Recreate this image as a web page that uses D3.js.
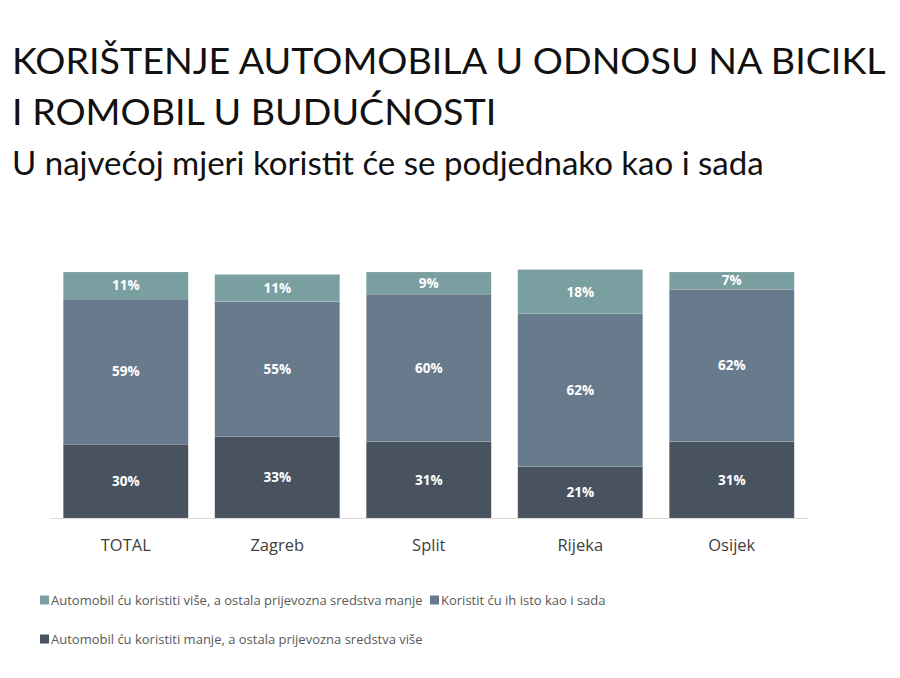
<!DOCTYPE html>
<html>
<head>
<meta charset="utf-8">
<script src="https://cdn.jsdelivr.net/npm/d3@7"></script>
<style>
  html, body { margin: 0; padding: 0; background: #fff; }
  svg { display: block; }
</style>
</head>
<body>
<svg id="chart" width="900" height="678"></svg>
<script>
// ---- data ----
const categories = ["TOTAL", "Zagreb", "Split", "Rijeka", "Osijek"];
const seriesNames = [
  "Automobil ću koristiti manje, a ostala prijevozna sredstva više",
  "Koristit ću ih isto kao i sada",
  "Automobil ću koristiti više, a ostala prijevozna sredstva manje"
];
const manje = [30, 33, 31, 21, 31];   // bottom
const isto  = [59, 55, 60, 62, 62];   // middle
const vise  = [11, 11, 9, 18, 7];     // top
const seriesColors = ["#48535f", "#687b8d", "#7a9fa0"];
const titleLines = ["KORIŠTENJE AUTOMOBILA U ODNOSU NA BICIKL", "I ROMOBIL U BUDUĆNOSTI"];
const subtitle = "U najvećoj mjeri koristit će se podjednako kao i sada";

const svg = d3.select("#chart");
const fontMain = "Lato, 'Open Sans', sans-serif";
const fontSmall = "'Open Sans', Lato, sans-serif";

// ---- titles (font size fitted to the reference width) ----
const titleSpecs = [
  {text: titleLines[0], y: 74, size: 39, width: 874},
  {text: titleLines[1], y: 125, size: 39, width: 488},
  {text: subtitle, y: 175, size: 32, width: 752}
];
const fitted = titleSpecs.map(s => {
  const t = svg.append("text")
    .attr("x", 12).attr("y", s.y)
    .attr("font-family", fontMain)
    .attr("font-size", s.size)
    .attr("fill", "#111")
    .text(s.text);
  const w = t.node().getComputedTextLength();
  return {t, ratio: s.width / w, s};
});
const titleSize = 39 * Math.min(fitted[0].ratio, fitted[1].ratio);
fitted[0].t.attr("font-size", titleSize);
fitted[1].t.attr("font-size", titleSize);
fitted[2].t.attr("font-size", Math.min(32 * fitted[2].ratio, 34));

// ---- chart ----
const data = categories.map((c, i) => ({cat: c, s0: manje[i], s1: isto[i], s2: vise[i]}));
const stack = d3.stack().keys(["s0", "s1", "s2"]);
const stacked = stack(data);

const x = d3.scaleBand().domain(categories).range([50, 807.5])
  .paddingInner(0.175).paddingOuter(0.0875);
const y = d3.scaleLinear().domain([0, 100]).range([518, 272]);

const layers = svg.append("g").selectAll("g").data(stacked).join("g")
  .attr("fill", (d, i) => seriesColors[i]);

layers.selectAll("rect").data(d => d).join("rect")
  .attr("x", d => x(d.data.cat))
  .attr("width", x.bandwidth())
  .attr("y", d => y(d[1]))
  .attr("height", d => y(d[0]) - y(d[1]))
  .attr("stroke", "#ffffff")
  .attr("stroke-opacity", 0.25)
  .attr("stroke-width", 0.5);

layers.selectAll("text").data(d => d).join("text")
  .attr("x", d => x(d.data.cat) + x.bandwidth() / 2)
  .attr("y", d => (y(d[0]) + y(d[1])) / 2)
  .attr("dy", "0.36em")
  .attr("text-anchor", "middle")
  .attr("font-family", fontSmall)
  .attr("font-weight", "bold")
  .attr("font-size", 13.5)
  .attr("fill", "#fff")
  .text(d => (d[1] - d[0]) + "%");

// axis
const xAxis = d3.axisBottom(x).tickSize(0).tickPadding(21);
const gx = svg.append("g").attr("transform", "translate(0,518)").call(xAxis);
gx.select(".domain").attr("stroke", "#d9d9d9").attr("stroke-width", 1.2);
gx.selectAll(".tick text")
  .attr("font-family", fontSmall)
  .attr("font-size", 16.5)
  .attr("fill", "#404040");

// ---- legend ----
const legendItems = [
  {name: seriesNames[2], color: seriesColors[2], x: 40, y: 600},
  {name: seriesNames[1], color: seriesColors[1], x: 430, y: 600},
  {name: seriesNames[0], color: seriesColors[0], x: 40, y: 639}
];
const lg = svg.append("g").selectAll("g").data(legendItems).join("g")
  .attr("transform", d => `translate(${d.x},${d.y})`);
lg.append("rect").attr("x", 0).attr("y", -4.5).attr("width", 9).attr("height", 9)
  .attr("fill", d => d.color);
lg.append("text").attr("x", 11).attr("y", 0).attr("dy", "0.35em")
  .attr("font-family", fontSmall)
  .attr("font-size", 13)
  .attr("fill", "#595959")
  .text(d => d.name);
</script>
</body>
</html>
